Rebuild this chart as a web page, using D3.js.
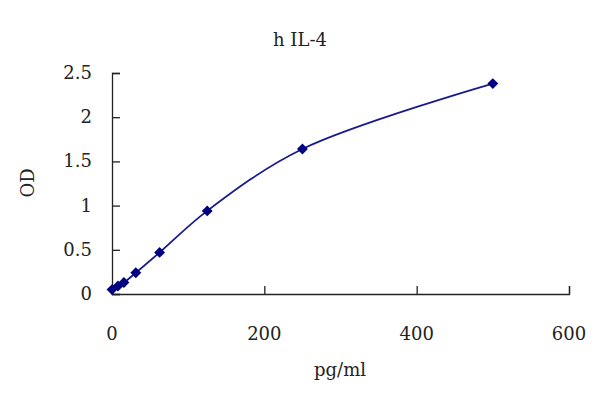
<!DOCTYPE html>
<html>
<head>
<meta charset="utf-8">
<script src="https://cdn.jsdelivr.net/npm/d3@7"></script>
<style>
  body { margin: 0; background: #fff; }
  text { font-family: "DejaVu Serif", "Liberation Serif", serif; fill: #222; }
</style>
</head>
<body>
<svg id="chart" width="599" height="403"></svg>
<script>
// standard curve values
var concentrations = [0, 7.8, 15.6, 31.25, 62.5, 125, 250, 500];
var odValues = [0.05, 0.09, 0.13, 0.24, 0.47, 0.94, 1.64, 2.38];
var xTicks = [0, 200, 400, 600];
var yTicks = [0, 0.5, 1, 1.5, 2, 2.5];

var svg = d3.select('#chart');
var plotLeft = 112, plotRight = 569, plotTop = 73, plotBottom = 294;

var x = d3.scaleLinear().domain([0, 600]).range([plotLeft, plotRight]);
var y = d3.scaleLinear().domain([0, 2.5]).range([plotBottom, plotTop]);

var points = concentrations.map(function(c, i){
  return { x: c, y: odValues[i] };
});

// axes, ticks pointing inward
var xAxis = svg.append('g')
  .attr('transform', 'translate(0,' + plotBottom + ')')
  .call(d3.axisTop(x).tickValues(xTicks).tickSize(8).tickFormat(''));
var yAxis = svg.append('g')
  .attr('transform', 'translate(' + plotLeft + ',0)')
  .call(d3.axisRight(y).tickValues(yTicks).tickSize(8).tickFormat(''));

[xAxis, yAxis].forEach(function(g){
  g.select('.domain').attr('stroke', '#222').attr('stroke-width', 1.3);
  g.selectAll('.tick line').attr('stroke', '#222').attr('stroke-width', 1.3);
});

// tick labels
svg.selectAll('.xlab')
  .data(xTicks)
  .enter().append('text')
  .attr('x', function(d){ return x(d); })
  .attr('y', 340)
  .attr('text-anchor', 'middle')
  .style('font-size', '18px')
  .text(function(d){ return d; });

svg.selectAll('.ylab')
  .data(yTicks)
  .enter().append('text')
  .attr('x', 92)
  .attr('y', function(d){ return y(d) + 6; })
  .attr('text-anchor', 'end')
  .style('font-size', '18px')
  .text(function(d){ return d; });

// titles
svg.append('text')
  .attr('x', 300).attr('y', 46)
  .attr('text-anchor', 'middle')
  .style('font-size', '18px')
  .text('h IL-4');

svg.append('text')
  .attr('x', 340).attr('y', 376)
  .attr('text-anchor', 'middle')
  .style('font-size', '18px')
  .text('pg/ml');

svg.append('text')
  .attr('transform', 'translate(34,183) rotate(-90)')
  .attr('text-anchor', 'middle')
  .style('font-size', '18px')
  .text('OD');

// curve
var line = d3.line()
  .x(function(d){ return x(d.x); })
  .y(function(d){ return y(d.y); })
  .curve(d3.curveCatmullRom);

svg.append('path')
  .datum(points)
  .attr('d', line)
  .attr('fill', 'none')
  .attr('stroke', '#1a1a8c')
  .attr('stroke-width', 1.8);

// diamond markers
svg.selectAll('.pt')
  .data(points)
  .enter().append('path')
  .attr('d', d3.symbol().type(d3.symbolDiamond2).size(75))
  .attr('transform', function(d){ return 'translate(' + x(d.x) + ',' + y(d.y) + ')'; })
  .attr('fill', '#000080');
</script>
</body>
</html>
